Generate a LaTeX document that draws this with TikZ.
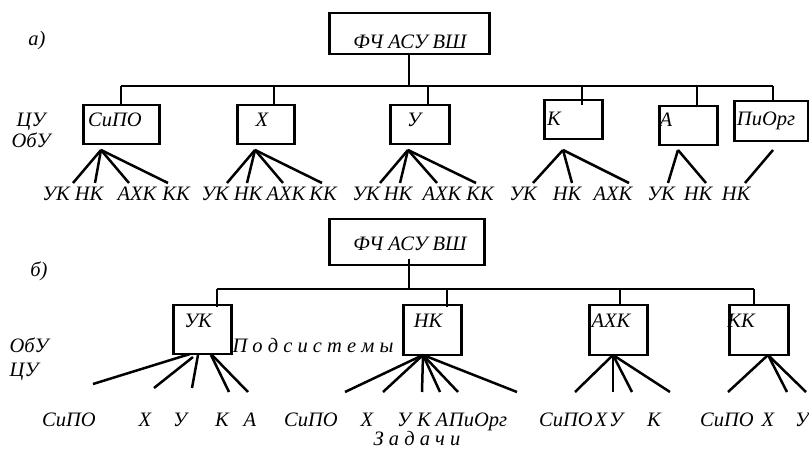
\documentclass[tikz,border=0pt]{standalone}
\usepackage{fontspec}
\setmainfont{Liberation Serif}
\begin{document}
\begin{tikzpicture}[x=1pt,y=-1pt,
  box/.style={draw, line width=2.5pt, inner sep=0pt, anchor=north west},
  lbl/.style={font=\fontsize{20.5}{20.5}\selectfont\itshape, inner sep=0pt, anchor=base},
  link/.style={line width=2.5pt}]
\useasboundingbox (0,0) rectangle (809,454);

% ===================== part a =====================
\node[lbl] (la) at (37,46) {а)};
\node[lbl] (cua) at (31,127) {ЦУ};
\node[lbl] (obua) at (31,148) {ОбУ};

\node[box, minimum width=160pt, minimum height=41pt] (ta) at (328,12) {};
\node[lbl] (tat) at (410,49) {ФЧ АСУ ВШ};

\node[box, minimum width=76pt, minimum height=39pt] (a1) at (82,104) {};
\node[box, minimum width=57pt, minimum height=39pt] (a2) at (236,104) {};
\node[box, minimum width=59pt, minimum height=39pt] (a3) at (389,104) {};
\node[box, minimum width=58pt, minimum height=39pt] (a4) at (543,99) {};
\node[box, minimum width=58pt, minimum height=39pt] (a5) at (658,105) {};
\node[box, minimum width=74pt, minimum height=40pt] (a6) at (733,100) {};
\node[lbl] (a1t) at (115,127) {СиПО};
\node[lbl] (a2t) at (262,127) {Х};
\node[lbl] (a3t) at (414,127) {У};
\node[lbl] (a4t) at (554,126) {К};
\node[lbl] (a5t) at (666,127) {А};
\node[lbl] (a6t) at (766,126) {ПиОрг};

\coordinate (busa) at (409,87);
\draw[link] (ta.south -| busa) -- (busa);
\draw[link] (121,86) coordinate (busaL) -- (773,86) coordinate (busaR);
\draw[link] (busaL) -- (a1.north -| busaL);
\draw[link] (274,86) coordinate (da2) -- (a2.north -| da2);
\draw[link] (428,86) coordinate (da3) -- (a3.north -| da3);
\draw[link] (582,86) coordinate (da4) -- (582,105);
\draw[link] (697,86) coordinate (da5) -- (a5.north -| da5);
\draw[link] (busaR) -- (a6.north -| busaR);

% fans a
\coordinate (fa1) at (101,150);
\foreach \x [count=\i] in {73,95,129,168} {\coordinate (fa1e\i) at (\x,183); \draw[link] (fa1) -- (fa1e\i);}
\coordinate (fa2) at (255,150);
\foreach \x [count=\i] in {227,247,283,322} {\coordinate (fa2e\i) at (\x,183); \draw[link] (fa2) -- (fa2e\i);}
\coordinate (fa3) at (408,150);
\foreach \x [count=\i] in {380,400,437,476} {\coordinate (fa3e\i) at (\x,183); \draw[link] (fa3) -- (fa3e\i);}
\coordinate (fa4) at (563,150);
\foreach \x [count=\i] in {533,572,629} {\coordinate (fa4e\i) at (\x,183); \draw[link] (fa4) -- (fa4e\i);}
\coordinate (fa5) at (678,150);
\foreach \x [count=\i] in {668,706} {\coordinate (fa5e\i) at (\x,183); \draw[link] (fa5) -- (fa5e\i);}
\coordinate (fa6) at (773,150);
\coordinate (fa6e1) at (745,183);
\draw[link] (fa6) -- (fa6e1);

% labels row a
\foreach \x/\t [count=\i] in {56/УК,89/НК,137/АХК,176/КК,215/УК,248/НК,286/АХК,323/КК,366/УК,398/НК,442/АХК,480/КК,523/УК,567/НК,613/АХК,661/УК,698/НК,736/НК}
  {\node[lbl] (ra\i) at (\x,201) {\t};}

% ===================== part b =====================
\node[lbl] (lb) at (39,277) {б)};
\node[lbl] (obub) at (29,353) {ОбУ};
\node[lbl] (cub) at (24,377) {ЦУ};

\node[box, minimum width=155pt, minimum height=46pt] (tb) at (328,218) {};
\node[lbl] (tbt) at (410,251) {ФЧ АСУ ВШ};

\node[box, minimum width=58pt, minimum height=49pt] (b1) at (172,304) {};
\node[box, minimum width=58pt, minimum height=50pt] (b2) at (402,304) {};
\node[box, minimum width=58pt, minimum height=50pt] (b3) at (588,304) {};
\node[box, minimum width=59pt, minimum height=50pt] (b4) at (728,304) {};
\node[lbl] (b1t) at (198,328) {УК};
\node[lbl] (b2t) at (428,328) {НК};
\node[lbl] (b3t) at (611,328) {АХК};
\node[lbl] (b4t) at (741,328) {КК};

\node[lbl] (podsys) at (313,353) {П о д с и с т е м ы};

\coordinate (tbb) at (409,259);
\coordinate (busb) at (409,290);
\draw[link] (tbb) -- (busb);
\draw[link] (217,289) coordinate (busbL) -- (754,289) coordinate (busbR);
\draw[link] (busbL) -- (217,307);
\draw[link] (447,289) coordinate (db2) -- (447,307);
\draw[link] (620,289) coordinate (db3) -- (b3.north -| db3);
\draw[link] (busbR) -- (b4.north -| busbR);

% fans b
\coordinate (fb1a) at (190,354);
\coordinate (fb1b) at (193,357);
\coordinate (fb1c) at (198,355);
\coordinate (fb1d) at (211,355);
\coordinate (fb1e) at (212,355);
\coordinate (fb1e1) at (93,384);
\coordinate (fb1e2) at (154,388);
\coordinate (fb1e3) at (192,388);
\coordinate (fb1e4) at (229,392);
\coordinate (fb1e5) at (248,392);
\draw[link] (fb1a) -- (fb1e1);
\draw[link] (fb1b) -- (fb1e2);
\draw[link] (fb1c) -- (fb1e3);
\draw[link] (fb1d) -- (fb1e4);
\draw[link] (fb1e) -- (fb1e5);
\coordinate (fb2) at (423,355);
\foreach \x [count=\i] in {345,383,422,440,458,517} {\coordinate (fb2e\i) at (\x,392); \draw[link] (fb2) -- (fb2e\i);}
\coordinate (fb3) at (613,355);
\foreach \x [count=\i] in {575,613,632,670} {\coordinate (fb3e\i) at (\x,392); \draw[link] (fb3) -- (fb3e\i);}
\coordinate (fb4) at (768,355);
\foreach \x [count=\i] in {728,787,806} {\coordinate (fb4e\i) at (\x,392); \draw[link] (fb4) -- (fb4e\i);}

% labels row b
\foreach \x/\t [count=\i] in {69/СиПО,145/Х,180/У,222/К,250/А,311/СиПО,367/Х,404/У,424/К,442/А,478/ПиОрг,566/СиПО,601/Х,616/У,654/К,727/СиПО,768/Х,802/У}
  {\node[lbl] (rb\i) at (\x,427) {\t};}
\node[lbl] (zad) at (417,445) {З а д а ч и};
\end{tikzpicture}
\end{document}
